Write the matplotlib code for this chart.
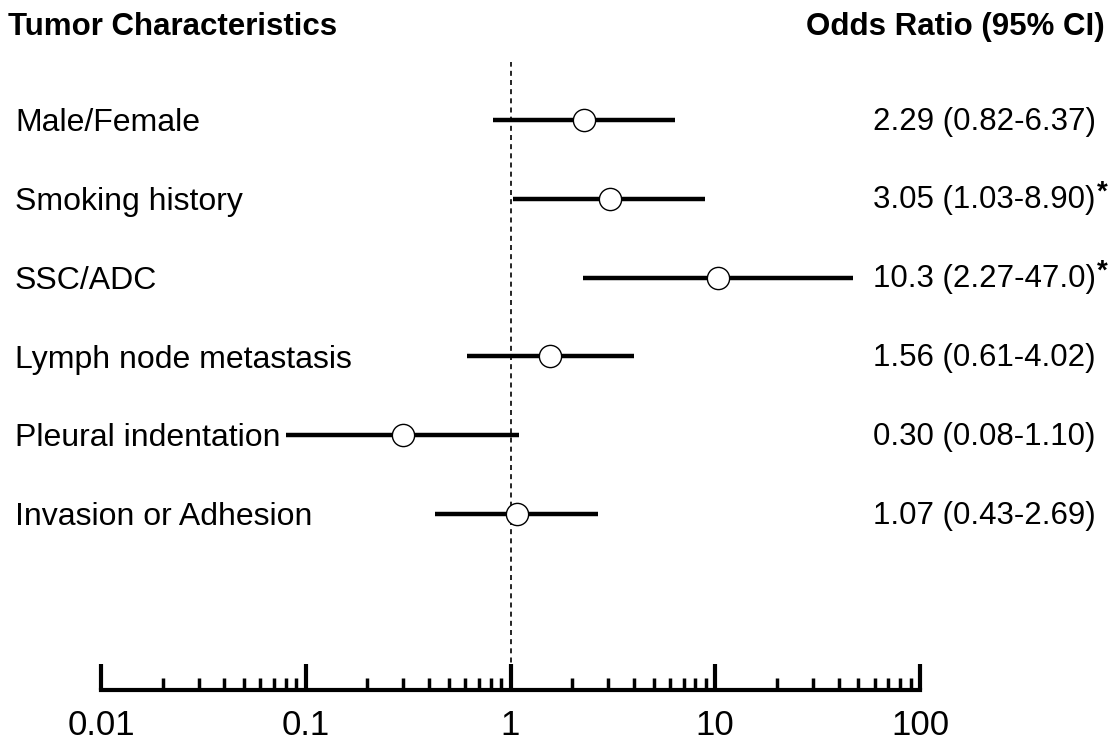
import numpy as np
import matplotlib
matplotlib.use("Agg")
import matplotlib.pyplot as plt
from matplotlib import transforms
from matplotlib.ticker import LogLocator, NullFormatter, FixedLocator, FixedFormatter

plt.rcParams["font.family"] = ["Liberation Sans", "DejaVu Sans"]

# data
labels = ["Male/Female", "Smoking history", "SSC/ADC",
          "Lymph node metastasis", "Pleural indentation", "Invasion or Adhesion"]
odds = [2.29, 3.05, 10.3, 1.56, 0.30, 1.07]
lower = [0.82, 1.03, 2.27, 0.61, 0.08, 0.43]
upper = [6.37, 8.90, 47.0, 4.02, 1.10, 2.69]
or_text = ["2.29 (0.82-6.37)", "3.05 (1.03-8.90)", "10.3 (2.27-47.0)",
           "1.56 (0.61-4.02)", "0.30 (0.08-1.10)", "1.07 (0.43-2.69)"]
signif = [False, True, True, False, False, False]
xticks = [0.01, 0.1, 1, 10, 100]
xticklabels = ["0.01", "0.1", "1", "10", "100"]

W, H = 1113, 742
fig = plt.figure(figsize=(W / 100, H / 100), dpi=100)
# axes in pixel terms: x 101..920, y 62..690
ax = fig.add_axes([101 / W, 1 - 690 / H, (920 - 101) / W, (690 - 62) / H])
ax.set_xscale("log")
ax.set_xlim(0.01, 100)
step = (514 - 120) / 5
ax.set_ylim((690 - 120) / step, -(120 - 62) / step)

ypos = np.arange(len(labels))
ax.axvline(1, color="black", linestyle=(0, (3, 2.5)), linewidth=1.2, zorder=1)
ax.hlines(ypos, lower, upper, color="black", linewidth=3.2, zorder=2)
ax.plot(odds, ypos, "o", markersize=16, markerfacecolor="white",
        markeredgecolor="black", markeredgewidth=1.0, zorder=3)

for s in ["top", "right", "left"]:
    ax.spines[s].set_visible(False)
ax.spines["bottom"].set_linewidth(3)
ax.set_yticks([])
ax.xaxis.set_major_locator(FixedLocator(xticks))
ax.xaxis.set_major_formatter(FixedFormatter(xticklabels))
ax.xaxis.set_minor_locator(LogLocator(base=10, subs=np.arange(2, 10)))
ax.xaxis.set_minor_formatter(NullFormatter())
ax.tick_params(axis="x", which="major", direction="in", length=19, width=3,
               labelsize=25, pad=14)
ax.tick_params(axis="x", which="minor", direction="in", length=9, width=2.5)
ax.set_facecolor("none")

tr = transforms.blended_transform_factory(fig.transFigure, ax.transData)
for i in range(len(labels)):
    fig.text(15 / W, i + 0.04, labels[i], transform=tr, fontsize=23,
             ha="left", va="center")
    t = fig.text(873 / W, i + 0.02, or_text[i], transform=tr, fontsize=22.5,
                 ha="left", va="center")
    if signif[i]:
        ax.annotate("*", xy=(1, 0.75), xycoords=t, xytext=(1, 0),
                    textcoords="offset points", fontsize=20,
                    fontweight="bold", ha="left", va="center")

fig.text(8 / W, 1 - 27 / H, "Tumor Characteristics", fontsize=22.5,
         fontweight="bold", ha="left", va="center")
fig.text(1105 / W, 1 - 27 / H, "Odds Ratio (95% CI)", fontsize=22.5,
         fontweight="bold", ha="right", va="center")

fig.savefig("out.png", dpi=100)
